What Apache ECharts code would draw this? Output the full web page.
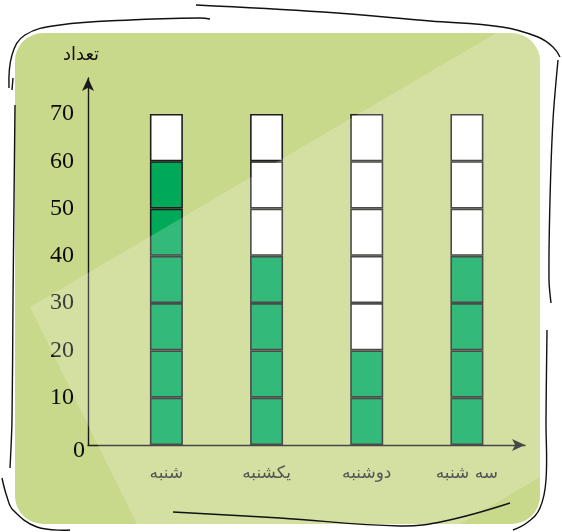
<!DOCTYPE html>
<html><head><meta charset="utf-8">
<script src="https://cdn.jsdelivr.net/npm/echarts@6/dist/echarts.min.js"></script>
<style>html,body{margin:0;padding:0;background:#fff}#c{width:562px;height:532px}</style>
</head><body><div id="c"></div>
<script>
const categories = ['شنبه', 'یکشنبه', 'دوشنبه', 'سه شنبه'];
const values = [60, 40, 20, 40];
const cellStep = 10;
const cellCount = 7;
const yAxisName = 'تعداد';

const green = '#00a859';
const empty = '#ffffff';

const series = [];
for (let k = 0; k < cellCount; k++) {
  series.push({
    type: 'bar', stack: 'cells', xAxisIndex: 1, yAxisIndex: 1,
    barWidth: 33, silent: true,
    data: categories.map((c, i) => ({
      value: cellStep,
      itemStyle: { color: values[i] >= (k + 1) * cellStep ? green : empty }
    })),
    itemStyle: { borderColor: '#1e1e1e', borderWidth: 1.6 }
  });
}

const chart = echarts.init(document.getElementById('c'), null, { renderer: 'canvas' });
const lineStyle = { stroke: '#111', lineWidth: 1.4, fill: null };
const Y_MAX = 77.6;
chart.setOption({
  animation: false,
  grid: [
    { left: 88, right: 37, top: 78, bottom: 87 },
    { left: 116.3, right: 45, top: 78, bottom: 87 }
  ],
  xAxis: [
    { type: 'value', gridIndex: 0, min: 0, max: 1,
      axisLine: { show: true, symbol: ['none', 'arrow'], symbolSize: [9, 13], lineStyle: { color: '#1a1a1a', width: 1.4 } },
      axisTick: { show: false }, axisLabel: { show: false }, splitLine: { show: false } },
    { type: 'category', gridIndex: 1, data: categories,
      axisLine: { show: false }, axisTick: { show: false }, splitLine: { show: false },
      axisLabel: { fontFamily: 'DejaVu Sans', fontSize: 17, color: '#2a2a2a', margin: 20 } }
  ],
  yAxis: [
    { type: 'value', gridIndex: 0, min: 0, max: Y_MAX, interval: 10,
      name: yAxisName, nameLocation: 'end', nameGap: 14,
      nameTextStyle: { fontFamily: 'DejaVu Sans', fontSize: 18, color: '#111', padding: [0, 14, 0, 0] },
      axisLine: { show: true, symbol: ['none', 'arrow'], symbolSize: [9, 13], lineStyle: { color: '#1a1a1a', width: 1.4 } },
      axisTick: { show: false }, splitLine: { show: false },
      axisLabel: { showMaxLabel: false, fontFamily: 'Liberation Serif', fontSize: 24, color: '#0a0a0a', margin: 14,
        formatter: v => v === 0 ? '{z|0}' : String(v),
        rich: { z: { fontFamily: 'Liberation Serif', fontSize: 24, color: '#0a0a0a', padding: [12, -11, 0, 0] } } } },
    { type: 'value', gridIndex: 1, min: 0, max: Y_MAX, show: false }
  ],
  series: series,
  graphic: [
    { type: 'rect', z: -100, silent: true, shape: { x: 15, y: 33, width: 525, height: 491, r: 28 }, style: { fill: '#c8d98b' } },
    { type: 'polygon', z: 100, silent: true, shape: { points: [[30, 307], [600, -28], [600, 442], [209, 671]] }, style: { fill: 'rgba(255,255,255,0.2)' } },
    { type: 'rect', z: 99, silent: true, shape: { x: 0, y: 0, width: 15, height: 532 }, style: { fill: '#fff' } },
    { type: 'polyline', z: 110, silent: true, shape: { smooth: 0.4, points: [[9, 88], [12, 55], [25, 35], [60, 25], [130, 20], [200, 18], [210, 19]] }, style: lineStyle },
    { type: 'polyline', z: 110, silent: true, shape: { smooth: 0.4, points: [[196, 5], [323, 12], [430, 21], [502, 27], [538, 37], [553, 47], [560, 57]] }, style: lineStyle },
    { type: 'polyline', z: 110, silent: true, shape: { smooth: 0.3, points: [[558, 60], [553, 120], [550, 200], [549, 280], [551, 303]] }, style: lineStyle },
    { type: 'polyline', z: 110, silent: true, shape: { smooth: 0.4, points: [[547, 330], [546, 420], [546, 480], [540, 508], [528, 522], [513, 530]] }, style: lineStyle },
    { type: 'polyline', z: 110, silent: true, shape: { points: [[13, 78], [12, 90]] }, style: lineStyle },
    { type: 'polyline', z: 110, silent: true, shape: { smooth: 0.3, points: [[15, 105], [13, 300], [12, 420], [10, 468]] }, style: lineStyle },
    { type: 'polyline', z: 110, silent: true, shape: { smooth: 0.4, points: [[2, 478], [7, 497], [13, 510], [37, 527], [70, 530]] }, style: lineStyle },
    { type: 'polyline', z: 110, silent: true, shape: { smooth: 0.4, points: [[173, 512], [280, 518], [400, 526], [445, 521], [510, 503]] }, style: lineStyle }
  ]
});
</script></body></html>
